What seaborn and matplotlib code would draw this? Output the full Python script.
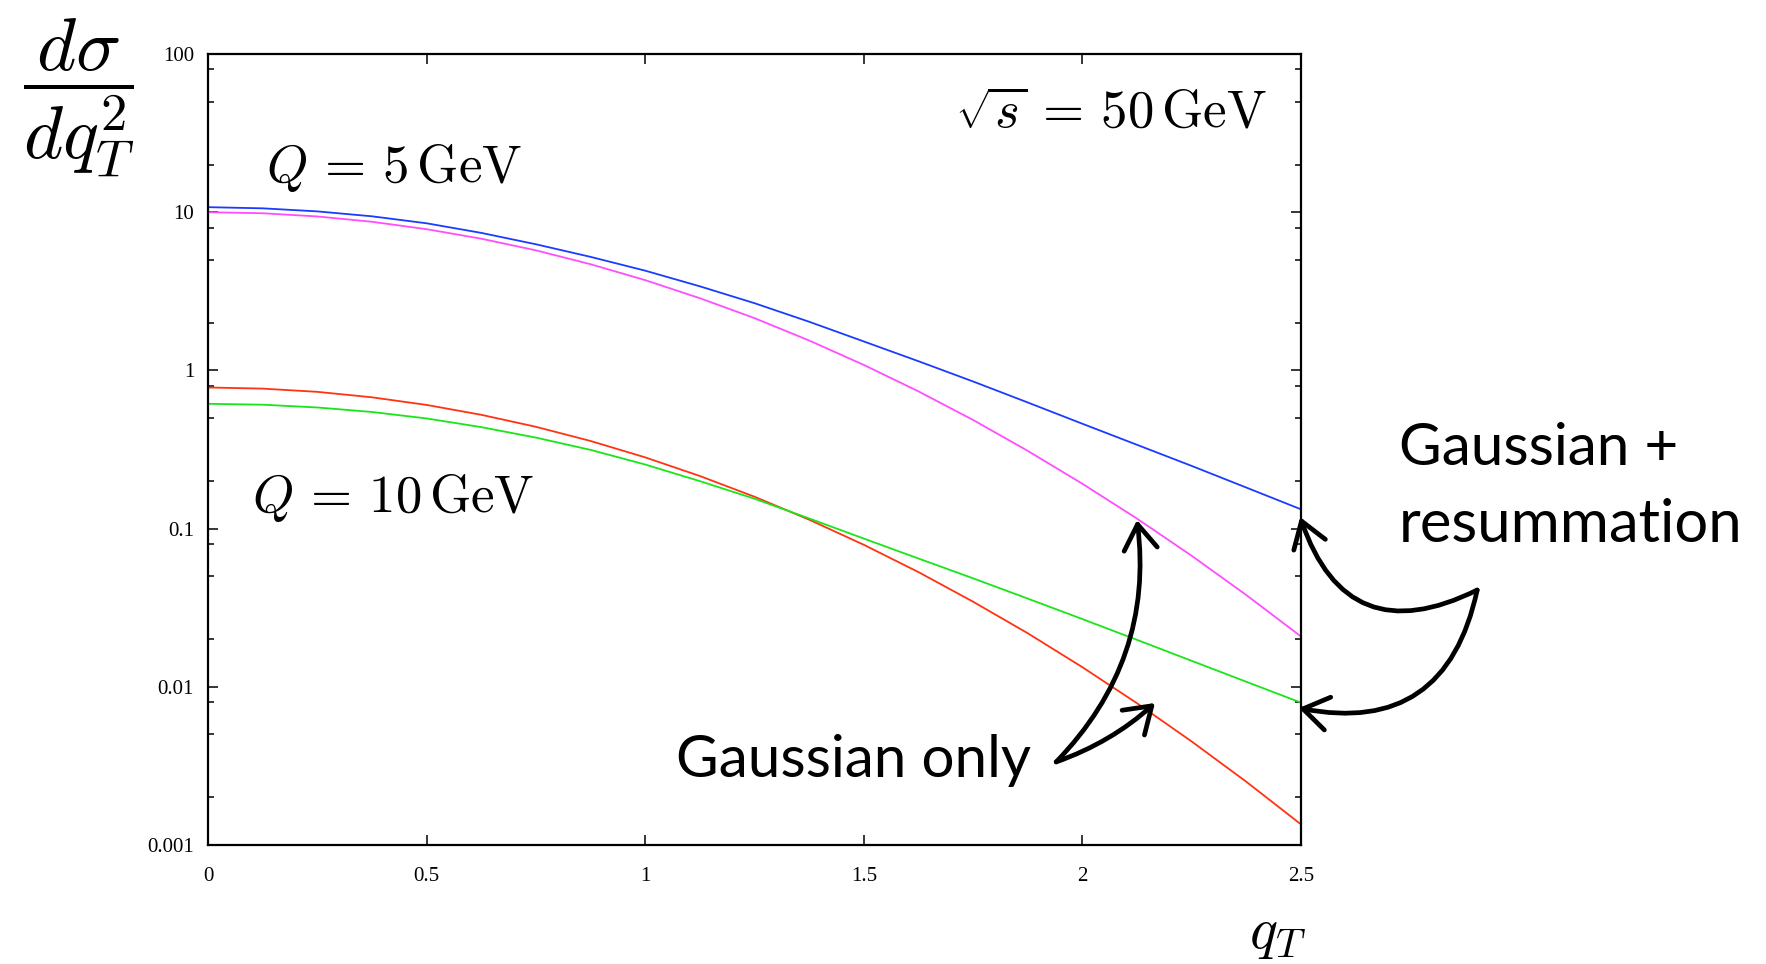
import numpy as np
import pandas as pd
import matplotlib
matplotlib.use("Agg")
import matplotlib.pyplot as plt
import seaborn as sns
from matplotlib.ticker import FixedLocator, FixedFormatter, NullFormatter

# ---------------- data ----------------
q_T = [0.0, 0.125, 0.25, 0.375, 0.5, 0.625, 0.75, 0.875, 1.0, 1.125, 1.25,
       1.375, 1.5, 1.625, 1.75, 1.875, 2.0, 2.125, 2.25, 2.375, 2.5]
# Q = 5 GeV, Gaussian + resummation (blue)
q5_gauss_resum = [10.76, 10.58, 10.12, 9.42, 8.51, 7.40, 6.27, 5.22, 4.27, 3.40, 2.66,
                  2.03, 1.524, 1.143, 0.851, 0.627, 0.460, 0.3385, 0.249, 0.1817, 0.1324]
# Q = 5 GeV, Gaussian only (magenta)
q5_gauss_only = [10.0, 9.85, 9.40, 8.70, 7.81, 6.80, 5.74, 4.69, 3.72, 2.86, 2.14,
                 1.545, 1.083, 0.737, 0.486, 0.310, 0.192, 0.1156, 0.0673, 0.0380, 0.0208]
# Q = 10 GeV, Gaussian only (red)
q10_gauss_only = [0.780, 0.767, 0.732, 0.676, 0.605, 0.524, 0.440, 0.358, 0.282, 0.215, 0.159,
                  0.1139, 0.0790, 0.0531, 0.0345, 0.0218, 0.0133, 0.00787, 0.00451, 0.00251, 0.00135]
# Q = 10 GeV, Gaussian + resummation (green)
q10_gauss_resum = [0.615, 0.607, 0.583, 0.546, 0.497, 0.438, 0.376, 0.3145, 0.2541, 0.1995, 0.1545,
                   0.1159, 0.0865, 0.0647, 0.0485, 0.0361, 0.0268, 0.0198, 0.01459, 0.01076, 0.00794]

series_names = ["Q5 Gaussian + resummation", "Q5 Gaussian only",
                "Q10 Gaussian only", "Q10 Gaussian + resummation"]
series_colors = ["#1a3cff", "#ff4dff", "#ff3311", "#19e619"]

y_ticks = [0.001, 0.01, 0.1, 1, 10, 100]
y_tick_labels = ["0.001", "0.01", "0.1", "1", "10", "100"]
x_ticks = [0, 0.5, 1, 1.5, 2, 2.5]
x_tick_labels = ["0", "0.5", "1", "1.5", "2", "2.5"]

df = pd.DataFrame({
    "qT": q_T * 4,
    "value": q5_gauss_resum + q5_gauss_only + q10_gauss_only + q10_gauss_resum,
    "series": sum([[n] * len(q_T) for n in series_names], []),
})

# ---------------- style ----------------
sns.set_theme(style="ticks")
plt.rcParams["mathtext.fontset"] = "cm"
plt.rcParams["font.family"] = ["Liberation Serif", "DejaVu Serif"]

W, H = 1766, 964
fig = plt.figure(figsize=(W / 100, H / 100), dpi=100)
fig.patch.set_facecolor("white")
ax = fig.add_axes([208 / W, (H - 845) / H, (1301 - 208) / W, (845 - 54) / H])
ax.set_facecolor("white")

sns.lineplot(data=df, x="qT", y="value", hue="series", hue_order=series_names,
             palette=dict(zip(series_names, series_colors)), estimator=None,
             sort=True, legend=False, linewidth=1.3, ax=ax)

ax.set_yscale("log")
ax.set_xlim(0, 2.5)
ax.set_ylim(1e-3, 100)

ax.yaxis.set_major_locator(FixedLocator(y_ticks))
ax.yaxis.set_major_formatter(FixedFormatter(y_tick_labels))
minor = [m * 10.0 ** e for e in range(-3, 2) for m in (2, 5, 8)]
ax.yaxis.set_minor_locator(FixedLocator(minor))
ax.yaxis.set_minor_formatter(NullFormatter())
ax.xaxis.set_major_locator(FixedLocator(x_ticks))
ax.xaxis.set_major_formatter(FixedFormatter(x_tick_labels))

ax.tick_params(which="both", direction="in", top=True, right=True, colors="black")
ax.tick_params(which="major", length=7.5, width=1.1, labelsize=15)
ax.tick_params(which="minor", length=4.5, width=1.1)
ax.tick_params(axis="y", which="major", pad=10)
ax.tick_params(axis="x", which="major", pad=16)
for sp in ax.spines.values():
    sp.set_visible(True)
    sp.set_color("black")
    sp.set_linewidth(1.6)
ax.set_xlabel("")
ax.set_ylabel("")
ax.grid(False)

def fx(px):
    return px / W

def fy(py):
    return 1 - py / H

# ---------------- math labels ----------------
fig.text(fx(79), fy(98), r"$\dfrac{d\sigma}{dq_T^2}$", fontsize=54,
         ha="center", va="center", color="black")
fig.text(fx(1277), fy(935), r"$q_T$", fontsize=42, ha="center", va="center", color="black")
fig.text(fx(266), fy(182), r"$Q\,=\,5\,\mathrm{GeV}$", fontsize=38,
         ha="left", va="baseline", color="black")
fig.text(fx(252), fy(512), r"$Q\,=\,10\,\mathrm{GeV}$", fontsize=38,
         ha="left", va="baseline", color="black")
fig.text(fx(955), fy(128), r"$\sqrt{s}\,=\,50\,\mathrm{GeV}$", fontsize=38,
         ha="left", va="baseline", color="black")

# ---------------- annotations ----------------
sans = ["Lato", "DejaVu Sans"]
fig.text(fx(676), fy(777), "Gaussian only", fontsize=42, family=sans,
         ha="left", va="baseline", color="black")
fig.text(fx(1399), fy(465), "Gaussian +", fontsize=42, family=sans,
         ha="left", va="baseline", color="black")
fig.text(fx(1399), fy(542), "resummation", fontsize=43, family=sans,
         ha="left", va="baseline", color="black")

arrow_kw = dict(arrowstyle="->,head_length=0.45,head_width=0.3", lw=3.4,
                color="black", mutation_scale=40, shrinkA=0, shrinkB=0,
                capstyle="round", joinstyle="round")

tail_only = (1.940, 0.00335)
tail_resum = (2.903, 0.0409)
ax.annotate("", xy=(2.125, 0.1132), xytext=tail_only, xycoords="data", textcoords="data",
            annotation_clip=False,
            arrowprops=dict(connectionstyle="arc3,rad=0.24", **arrow_kw))
ax.annotate("", xy=(2.166, 0.0079), xytext=tail_only, xycoords="data", textcoords="data",
            annotation_clip=False,
            arrowprops=dict(connectionstyle="arc3,rad=0.1", **arrow_kw))
ax.annotate("", xy=(2.498, 0.1183), xytext=tail_resum, xycoords="data", textcoords="data",
            annotation_clip=False,
            arrowprops=dict(connectionstyle="arc3,rad=-0.57", **arrow_kw))
ax.annotate("", xy=(2.495, 0.00734), xytext=tail_resum, xycoords="data", textcoords="data",
            annotation_clip=False,
            arrowprops=dict(connectionstyle="arc3,rad=-0.49", **arrow_kw))

fig.savefig("out.png", dpi=100, facecolor="white")
